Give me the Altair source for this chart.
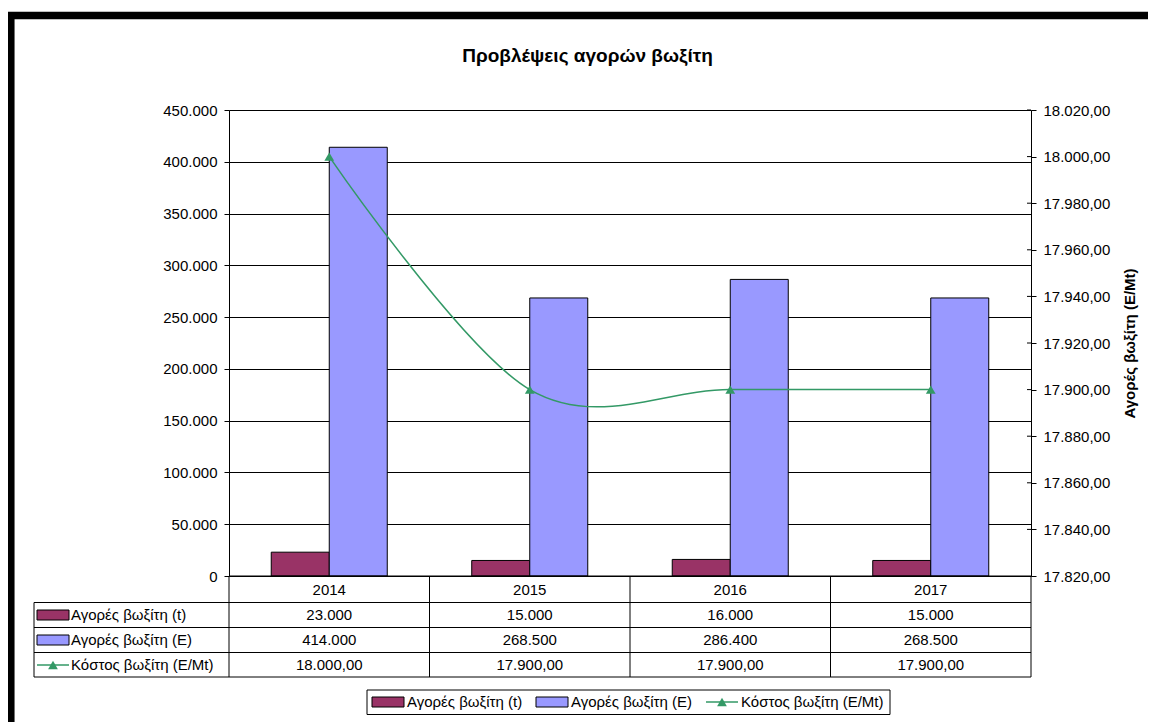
import altair as alt
import pandas as pd

# ---------------- data ----------------
years = ["2014", "2015", "2016", "2017"]
purchases_t = [23000, 15000, 16000, 15000]
purchases_e = [414000, 268500, 286400, 268500]
cost_e_mt = [18000.00, 17900.00, 17900.00, 17900.00]

series_names = ["Αγορές βωξίτη (t)", "Αγορές βωξίτη (E)", "Κόστος βωξίτη (E/Mt)"]
series_colors = ["#993366", "#9999FF", "#339966"]
chart_title = "Προβλέψεις αγορών βωξίτη"
right_title = "Αγορές βωξίτη (E/Mt)"
left_tick_values = [0, 50000, 100000, 150000, 200000, 250000, 300000, 350000, 400000, 450000]
right_tick_values = [17820, 17840, 17860, 17880, 17900, 17920, 17940, 17960, 17980, 18000, 18020]

# ---------------- layout ----------------
FONT = "Liberation Sans"
FS = 15
W, H = 802, 466
GREEN = series_colors[2]
MARKER = 95

bar_df = pd.DataFrame({
    "year": years * 2,
    "series": [series_names[0]] * len(years) + [series_names[1]] * len(years),
    "value": purchases_t + purchases_e,
})
cost_df = pd.DataFrame({"year": years, "value": cost_e_mt})

x_enc = alt.X("year:N", scale=alt.Scale(domain=years, paddingInner=0, paddingOuter=0), axis=None)

bars = alt.Chart(bar_df).mark_bar(stroke="black", strokeWidth=1).encode(
    x=x_enc,
    xOffset=alt.XOffset("series:N", scale=alt.Scale(domain=series_names[:2], paddingInner=0, paddingOuter=0.728)),
    y=alt.Y("value:Q", scale=alt.Scale(domain=[0, 450000], nice=False),
            axis=alt.Axis(orient="left", values=left_tick_values, format=",.0f", title=None,
                          grid=True, gridColor="black", gridWidth=1, gridOpacity=1,
                          domainColor="black", tickColor="black", tickSize=5,
                          labelFont=FONT, labelFontSize=FS, labelColor="black", labelPadding=7)),
    color=alt.Color("series:N", scale=alt.Scale(domain=series_names[:2], range=series_colors[:2]), legend=None),
)

right_axis = alt.Axis(orient="right", values=right_tick_values, format=",.2f", title=right_title,
                      titleFont=FONT, titleFontSize=FS, titleFontWeight="bold", titleColor="black",
                      titleAngle=270, titlePadding=28, grid=False, domainColor="black",
                      tickColor="black", tickSize=5, labelFont=FONT, labelFontSize=FS,
                      labelColor="black", labelPadding=7)
y_right = alt.Y("value:Q", scale=alt.Scale(domain=[17820, 18020], nice=False, zero=False), axis=right_axis)

line = alt.Chart(cost_df).mark_line(interpolate="cardinal", color=GREEN, strokeWidth=1.5).encode(x=x_enc, y=y_right)
pts = alt.Chart(cost_df).mark_point(shape="triangle-up", filled=True, size=MARKER, color=GREEN, opacity=1).encode(
    x=x_enc, y=y_right)
inner_ticks = alt.Chart(pd.DataFrame({"value": right_tick_values[1:]})).mark_rule(color="black").encode(
    x=alt.value(W - 4), x2=alt.value(W), y=y_right)
cost_layer = alt.layer(line, pts, inner_ticks)

layers = []

# ---------- data table ----------
row_lines = [492.5, 517.5, 542.5, 567]
row_centers = [505, 530, 555]
header_center = 479.5
left_col = -195

for yv in [H] + row_lines:
    x1 = 0 if yv == H else left_col
    layers.append(alt.Chart(pd.DataFrame({"k": [0]})).mark_rule(color="black", strokeWidth=1).encode(
        x=alt.value(x1), x2=alt.value(W), y=alt.value(yv)))
layers.append(alt.Chart(pd.DataFrame({"k": [0]})).mark_rule(color="black", strokeWidth=1).encode(
    x=alt.value(0), y=alt.value(H), y2=alt.value(row_lines[-1])))
layers.append(alt.Chart(pd.DataFrame({"k": [0]})).mark_rule(color="black", strokeWidth=1).encode(
    x=alt.value(left_col), y=alt.value(row_lines[0]), y2=alt.value(row_lines[-1])))
layers.append(alt.Chart(pd.DataFrame({"year": years})).mark_rule(color="black", strokeWidth=1).encode(
    x=alt.X("year:N", bandPosition=1, scale=alt.Scale(domain=years, paddingInner=0, paddingOuter=0), axis=None),
    y=alt.value(H), y2=alt.value(row_lines[-1])))

layers.append(alt.Chart(pd.DataFrame({"year": years})).mark_text(font=FONT, fontSize=FS, color="black", baseline="middle").encode(
    x=x_enc, y=alt.value(header_center), text="year:N"))

for vals, fmt, yc in [(purchases_t, ",.0f", row_centers[0]), (purchases_e, ",.0f", row_centers[1]),
                      (cost_e_mt, ",.2f", row_centers[2])]:
    layers.append(alt.Chart(pd.DataFrame({"year": years, "value": vals})).mark_text(
        font=FONT, fontSize=FS, color="black", baseline="middle").encode(
        x=x_enc, y=alt.value(yc), text=alt.Text("value:Q", format=fmt)))


def key_layers(x0, yc, idx, label_x):
    out = []
    if idx < 2:
        out.append(alt.Chart(pd.DataFrame({"k": [0]})).mark_rect(
            fill=series_colors[idx], stroke="black", strokeWidth=1).encode(
            x=alt.value(x0), x2=alt.value(x0 + 32), y=alt.value(yc - 5), y2=alt.value(yc + 5)))
    else:
        out.append(alt.Chart(pd.DataFrame({"k": [0]})).mark_rule(color=GREEN, strokeWidth=1.5).encode(
            x=alt.value(x0), x2=alt.value(x0 + 32), y=alt.value(yc)))
        out.append(alt.Chart(pd.DataFrame({"k": [0]})).mark_point(
            shape="triangle-up", filled=True, size=MARKER, color=GREEN, opacity=1).encode(
            x=alt.value(x0 + 16), y=alt.value(yc)))
    out.append(alt.Chart(pd.DataFrame({"label": [series_names[idx]]})).mark_text(
        font=FONT, fontSize=FS, color="black", align="left", baseline="middle").encode(
        x=alt.value(label_x), y=alt.value(yc), text="label:N"))
    return out


for i in range(3):
    layers += key_layers(left_col + 3, row_centers[i], i, left_col + 37)

# ---------- bottom legend ----------
leg_y = 592
layers.append(alt.Chart(pd.DataFrame({"k": [0]})).mark_rect(fill="white", stroke="black", strokeWidth=1).encode(
    x=alt.value(138), x2=alt.value(661), y=alt.value(580), y2=alt.value(604.5)))
for i, kx in enumerate([143, 307, 477]):
    layers += key_layers(kx, leg_y, i, kx + 35)

# ---------- title & frame ----------
layers.append(alt.Chart(pd.DataFrame({"t": [chart_title]})).mark_text(
    font=FONT, fontSize=19, fontWeight="bold", color="black", baseline="alphabetic", align="center").encode(
    x=alt.value(358.5), y=alt.value(-48.5), text="t:N"))
layers.append(alt.Chart(pd.DataFrame({"k": [0]})).mark_rect(
    fill="transparent", stroke="black", strokeWidth=7.5).encode(
    x=alt.value(-218.2), x2=alt.value(1100), y=alt.value(-94.6), y2=alt.value(800)))

chart = alt.layer(bars, cost_layer, *layers).resolve_scale(y="independent").properties(
    width=W, height=H,
    autosize=alt.AutoSizeParams(type="none"),
    padding={"left": 221, "top": 102, "right": 117, "bottom": 146},
    background="white",
).configure_view(stroke=None).configure(
    locale={"number": {"decimal": ",", "thousands": ".", "grouping": [3], "currency": ["", " €"]}}
)

chart.save("out.html", embed_options={"renderer": "svg", "actions": False})
